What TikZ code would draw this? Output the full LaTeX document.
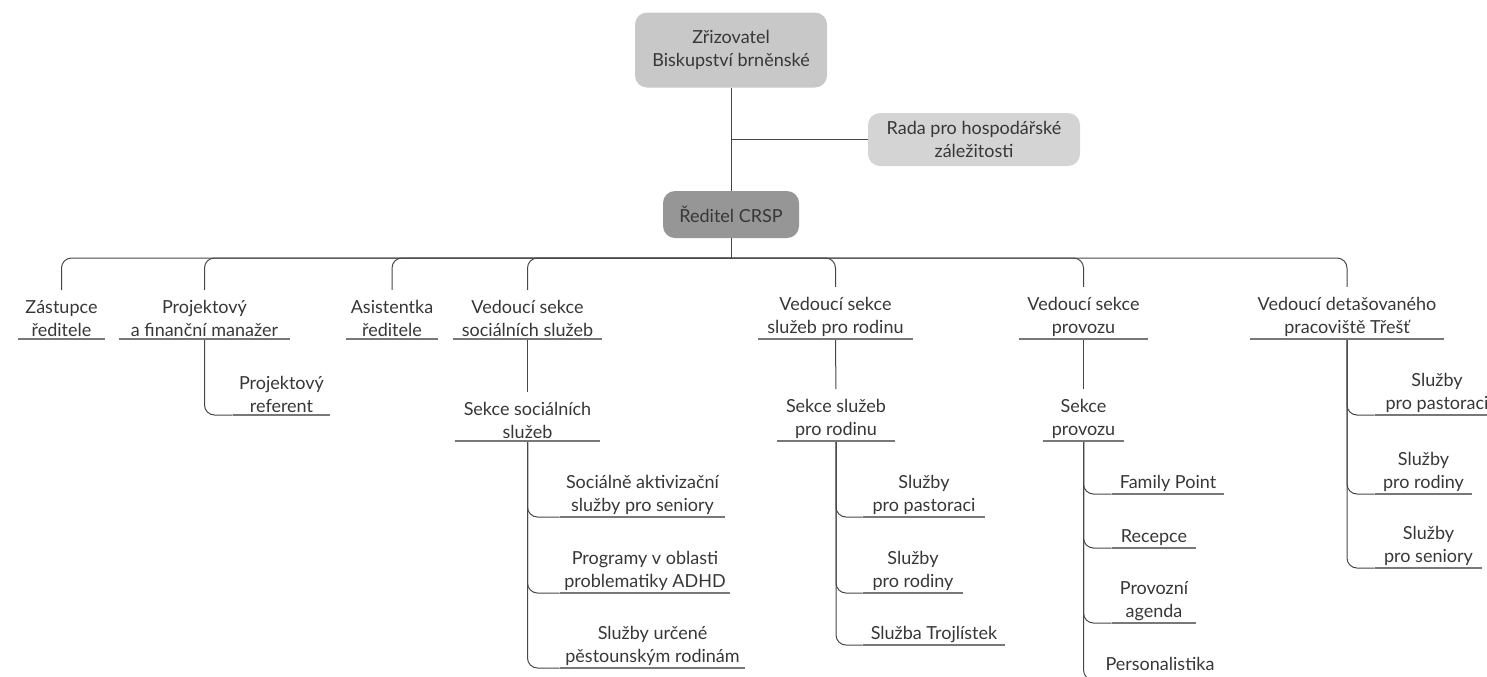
\documentclass[tikz,border=0pt]{standalone}
\usepackage{fontspec}
\setmainfont{Lato}
\usetikzlibrary{positioning}

\definecolor{topgray}{RGB}{200,200,200}
\definecolor{radagray}{RGB}{212,212,212}
\definecolor{dirgray}{RGB}{150,150,150}
\definecolor{txtgray}{RGB}{55,55,55}
\definecolor{linegray}{RGB}{70,70,70}
\definecolor{ulgray}{RGB}{120,120,120}

\tikzset{
  box/.style={rounded corners=6pt, align=center, text=txtgray, inner sep=2pt},
  lbl/.style={align=center, anchor=south, inner xsep=0pt, inner ysep=1pt, text=txtgray},
  link/.style={draw=linegray, line width=0.5pt, rounded corners=5pt},
  uline/.style={draw=ulgray, line width=0.6pt}
}

\begin{document}
\begin{tikzpicture}[x=0.5pt, y=-0.5pt, font=\fontsize{9}{11.5}\selectfont]
		\useasboundingbox (0,0) rectangle (1487,676);
		% top of the chart
		\node[box, fill=topgray, minimum width=96pt, minimum height=37.5pt] (zriz) at (731,50) {Zřizovatel\\Biskupství brněnské};
		\node[box, fill=radagray, minimum width=106pt, minimum height=26.5pt] (rada) at (974,139.5) {Rada pro hospodářské\\záležitosti};
		\node[box, fill=dirgray, minimum width=68pt, minimum height=23.5pt] (dir) at (731,214.5) {Ředitel CRSP};
		
		\draw[link] (zriz) -- (dir);
		\draw[link] (rada.west) -- (rada.west -| zriz.south);
		
		% first level
		\node[lbl, minimum width=43.5pt] (zast) at (61.5,339) {Zástupce\\ředitele};
		\node[lbl, minimum width=85.5pt] (proj) at (204.5,339) {Projektový\\a finanční manažer};
		\node[lbl, minimum width=46pt] (asist) at (392,339) {Asistentka\\ředitele};
		\node[lbl, minimum width=74.5pt] (vss) at (527.5,339) {Vedoucí sekce\\sociálních služeb};
		\node[lbl, minimum width=77.5pt] (vsr) at (835.5,339) {Vedoucí sekce\\služeb pro rodinu};
		\node[lbl, minimum width=64.5pt] (vsp) at (1083.5,339) {Vedoucí sekce\\provozu};
		\node[lbl, minimum width=97pt] (vdp) at (1347,339) {Vedoucí detašovaného\\pracoviště Třešť};
		
		\coordinate (bus) at (731,258);
		\draw[link] (dir.south) -- (bus);
		\foreach \n in {zast,proj,asist,vss,vsr,vsp,vdp}
			\draw[link, shorten >=4pt] (bus) -| (\n.north);
		
		% sections
		\node[lbl, minimum width=48.5pt] (ref) at (281.5,415) {Projektový\\referent};
		\node[lbl, minimum width=72.5pt] (sss) at (527.5,441) {Sekce sociálních\\služeb};
		\node[lbl, minimum width=59pt] (ssr) at (836,441) {Sekce služeb\\pro rodinu};
		\node[lbl, minimum width=40.5pt] (spr) at (1083.5,441) {Sekce\\provozu};
		
		\draw[link] (proj.south) |- (ref.south west);
		\draw[link, shorten >=4pt] (vss.south) -- (sss.north);
		\draw[link, shorten >=4pt] (vsr.south) -- (ssr.north);
		\draw[link, shorten >=4pt] (vsp.south) -- (spr.north);
		
		% social services
		\node[lbl, minimum width=82.5pt] (soc1) at (642.5,517) {Sociálně aktivizační\\služby pro seniory};
		\node[lbl, minimum width=85pt] (soc2) at (645,593) {Programy v oblasti\\problematiky ADHD};
		\node[lbl, minimum width=92.5pt] (soc3) at (652.5,668) {Služby určené\\pěstounským rodinám};
		% family services
		\node[lbl, minimum width=61pt] (rod1) at (924,517) {Služby\\pro pastoraci};
		\node[lbl, minimum width=50pt] (rod2) at (913,593) {Služby\\pro rodiny};
		\node[lbl, minimum width=71pt] (rod3) at (934,645) {Služba Trojlístek};
		% operations
		\node[lbl, minimum width=56pt] (prv1) at (1168,494) {Family Point};
		\node[lbl, minimum width=42pt] (prv2) at (1154,548) {Recepce};
		\node[lbl, minimum width=42pt] (prv3) at (1154,623) {Provozní\\agenda};
		\node[lbl, minimum width=49pt] (prv4) at (1160,680) {Personalistika\strut};
		% Trest
		\node[lbl, minimum width=62pt] (det1) at (1437,415) {Služby\\pro pastoraci};
		\node[lbl, minimum width=48.5pt] (det2) at (1423.5,494) {Služby\\pro rodiny};
		\node[lbl, minimum width=53.5pt] (det3) at (1428.5,568) {Služby\\pro seniory};
		
		\foreach \n in {soc1,soc2,soc3}
			\draw[link] (sss.south) |- (\n.south west);
		\foreach \n in {rod1,rod2,rod3}
			\draw[link] (ssr.south) |- (\n.south west);
		\foreach \n in {prv1,prv2,prv3,prv4}
			\draw[link] (spr.south) |- (\n.south west);
		\foreach \n in {det1,det2,det3}
			\draw[link] (vdp.south) |- (\n.south west);
		
		% underlines
		\foreach \n in {zast,proj,asist,vss,vsr,vsp,vdp,ref,sss,ssr,spr,soc1,soc2,soc3,rod1,rod2,rod3,prv1,prv2,prv3,prv4,det1,det2,det3}
			\draw[uline] (\n.south west) -- (\n.south east);
		
	\end{tikzpicture}
\end{document}
